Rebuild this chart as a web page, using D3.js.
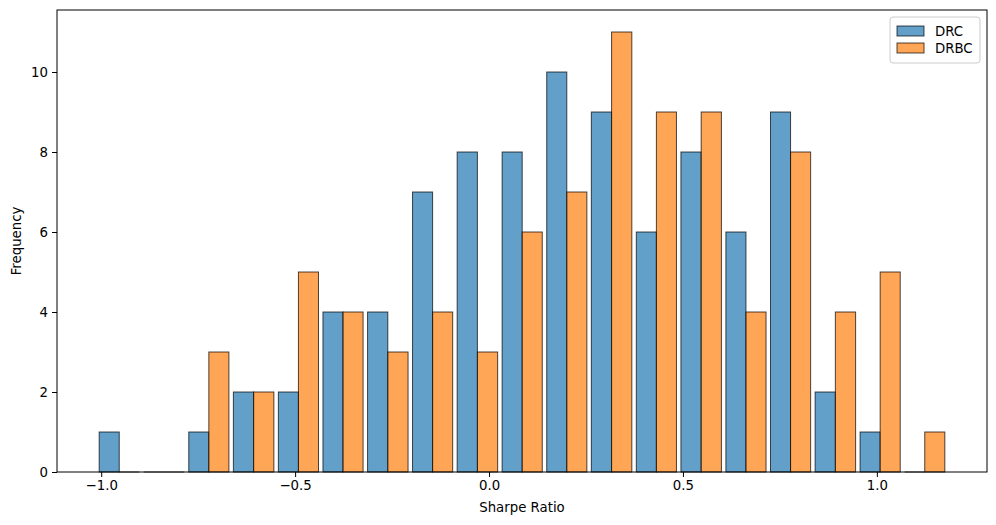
<!DOCTYPE html>
<html>
<head>
<meta charset="utf-8">
<script src="https://cdn.jsdelivr.net/npm/d3@7"></script>
<style>
  body { margin: 0; background: #fff; }
  text { font-family: "DejaVu Sans", sans-serif; }
</style>
</head>
<body>
<script>
// histogram bins (shared edges) and counts per series
var binEdges = [-1.011, -0.896, -0.780, -0.665, -0.549, -0.434, -0.319, -0.203, -0.088, 0.028,
                0.143, 0.258, 0.374, 0.489, 0.605, 0.720, 0.835, 0.951, 1.066, 1.181];
var drcCounts  = [1, 0, 1, 2, 2, 4, 4, 7, 8, 8, 10, 9, 6, 8, 6, 9, 2, 1, 0];
var drbcCounts = [0, 0, 3, 2, 5, 4, 3, 4, 3, 6, 7, 11, 9, 9, 4, 8, 4, 5, 1];
var seriesNames = ['DRC', 'DRBC'];
var seriesColors = ['#1f77b4', '#ff7f0e'];
var xTicks = [-1.0, -0.5, 0.0, 0.5, 1.0];
var yTicks = [0, 2, 4, 6, 8, 10];

var W = 996, H = 525;
var plotL = 57, plotR = 987, plotT = 10, plotB = 472;

var svg = d3.select('body').append('svg')
  .attr('width', W)
  .attr('height', H);

var x = d3.scaleLinear().domain([-1.114, 1.284]).range([plotL, plotR]);
var y = d3.scaleLinear().domain([0, 11.55]).range([plotB, plotT]);

var series = [drcCounts, drbcCounts];
var rwidth = 0.9;

function barX(i, s) {
  var w = binEdges[i + 1] - binEdges[i];
  return x(binEdges[i] + w * (1 - rwidth) / 2 + s * w * rwidth / 2);
}
function barW(i) {
  var w = binEdges[i + 1] - binEdges[i];
  return x(binEdges[i] + w * rwidth / 2) - x(binEdges[i]);
}

series.forEach(function(counts, s) {
  var g = svg.append('g');
  g.selectAll('rect')
    .data(counts)
    .enter().append('rect')
    .attr('x', function(d, i) { return barX(i, s); })
    .attr('width', function(d, i) { return barW(i); })
    .attr('y', function(d) { return y(d); })
    .attr('height', function(d) { return y(0) - y(d); })
    .style('fill', seriesColors[s])
    .style('fill-opacity', 0.7)
    .style('stroke', 'black')
    .style('stroke-opacity', 0.7)
    .style('stroke-width', 1);
  // empty bins still show their outline as a flat line
  g.selectAll('line')
    .data(counts.map(function(d, i) { return {v: d, i: i}; }).filter(function(d) { return d.v === 0; }))
    .enter().append('line')
    .attr('x1', function(d) { return barX(d.i, s); })
    .attr('x2', function(d) { return barX(d.i, s) + barW(d.i); })
    .attr('y1', y(0)).attr('y2', y(0))
    .style('stroke', 'black')
    .style('stroke-opacity', 0.7)
    .style('stroke-width', 1);
});

// frame
svg.append('rect')
  .attr('x', plotL).attr('y', plotT)
  .attr('width', plotR - plotL).attr('height', plotB - plotT)
  .style('fill', 'none').style('stroke', 'black').style('stroke-width', 1);

var xAxis = d3.axisBottom(x).tickValues(xTicks)
  .tickFormat(function(d) { return d3.format('.1f')(d).replace('-', '\u2212'); })
  .tickSize(5).tickPadding(4);
var gx = svg.append('g').attr('transform', 'translate(0,' + plotB + ')').call(xAxis);
gx.select('.domain').remove();

var yAxis = d3.axisLeft(y).tickValues(yTicks).tickSize(5).tickPadding(4);
var gy = svg.append('g').attr('transform', 'translate(' + plotL + ',0)').call(yAxis);
gy.select('.domain').remove();

svg.selectAll('.tick text')
  .style('font-family', '"DejaVu Sans", sans-serif')
  .style('font-size', '13.3px')
  .style('fill', 'black');
svg.selectAll('.tick line').style('stroke', 'black');

svg.append('text')
  .attr('x', (plotL + plotR) / 2).attr('y', 512)
  .attr('text-anchor', 'middle')
  .style('font-size', '13.3px')
  .text('Sharpe Ratio');

svg.append('text')
  .attr('transform', 'translate(21,' + ((plotT + plotB) / 2) + ') rotate(-90)')
  .attr('text-anchor', 'middle')
  .style('font-size', '13.3px')
  .text('Frequency');

// legend
var legend = svg.append('g').attr('transform', 'translate(890,17)');
legend.append('rect')
  .attr('width', 90).attr('height', 46).attr('rx', 3)
  .style('fill', 'white').style('fill-opacity', 0.8)
  .style('stroke', '#ccc').style('stroke-width', 1);
seriesNames.forEach(function(name, i) {
  legend.append('rect')
    .attr('x', 7).attr('y', 9 + i * 17)
    .attr('width', 27).attr('height', 10)
    .style('fill', seriesColors[i]).style('fill-opacity', 0.7)
    .style('stroke', 'black').style('stroke-opacity', 0.7);
  legend.append('text')
    .attr('x', 45).attr('y', 19 + i * 17)
    .style('font-size', '13.3px')
    .text(name);
});
</script>
</body>
</html>
